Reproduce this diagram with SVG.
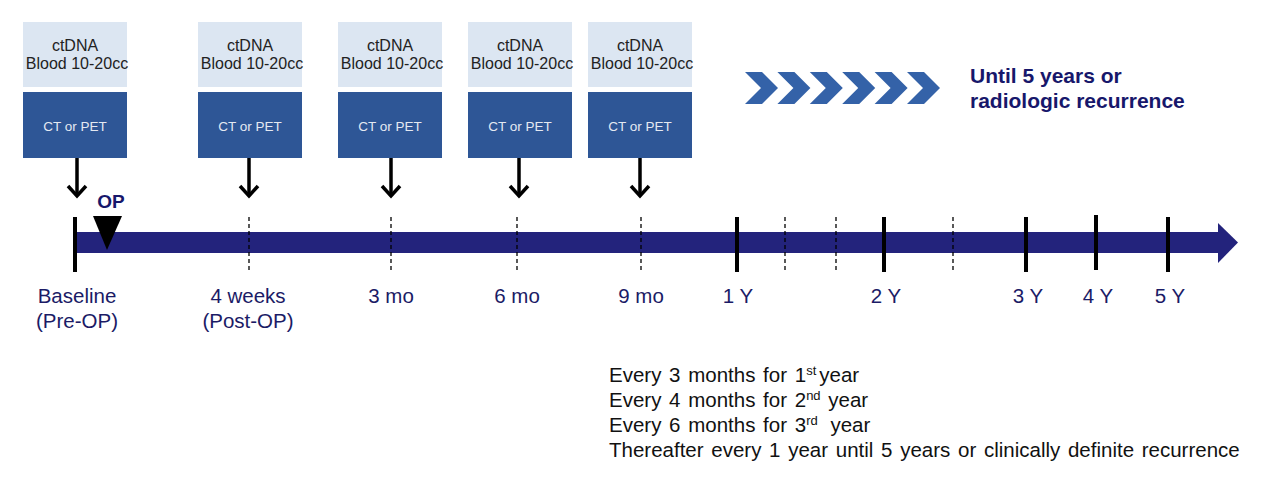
<svg xmlns="http://www.w3.org/2000/svg" width="1269" height="483" viewBox="0 0 1269 483">
<style>
.lb{fill:#dce6f2}
.db{fill:#2e5696}
.t1{font-family:"Liberation Sans",Arial,sans-serif;font-size:16px;fill:#222;text-anchor:middle}
.t2{font-family:"Liberation Sans",Arial,sans-serif;font-size:13.5px;fill:#e4e9f2;text-anchor:middle}
.lab{font-family:"Liberation Sans",Arial,sans-serif;font-size:20.5px;fill:#1b1b66;text-anchor:middle}
.arr{fill:none;stroke:#000;stroke-width:3.5}
.solid{stroke:#000;stroke-width:4}
.dash{stroke:#000;stroke-width:1.3;stroke-dasharray:4 3}
.note{font-family:"Liberation Sans",Arial,sans-serif;font-size:20.5px;fill:#111;word-spacing:2px}
.sup{font-size:13px}
.ttl{font-family:"Liberation Sans",Arial,sans-serif;font-size:21px;font-weight:bold;fill:#17176b}
</style>
<defs>
<path id="chev" d="M0,72 L17,72 L33,88 L17,104 L0,104 L16,88 Z" fill="#3462a8"/>
</defs>
<rect width="1269" height="483" fill="#fff"/>

<g id="node-baseline-box">
<rect class="lb" x="23" y="22" width="104" height="65"/>
<text class="t1" x="75" y="51">ctDNA</text>
<text class="t1" x="77" y="69">Blood 10-20cc</text>
<rect class="db" x="23" y="92" width="104" height="66"/>
<text class="t2" x="75" y="131">CT or PET</text>
</g>
<g id="node-4weeks-box">
<rect class="lb" x="198" y="22" width="104" height="65"/>
<text class="t1" x="250" y="51">ctDNA</text>
<text class="t1" x="252" y="69">Blood 10-20cc</text>
<rect class="db" x="198" y="92" width="104" height="66"/>
<text class="t2" x="250" y="131">CT or PET</text>
</g>
<g id="node-3mo-box">
<rect class="lb" x="338" y="22" width="104" height="65"/>
<text class="t1" x="390" y="51">ctDNA</text>
<text class="t1" x="392" y="69">Blood 10-20cc</text>
<rect class="db" x="338" y="92" width="104" height="66"/>
<text class="t2" x="390" y="131">CT or PET</text>
</g>
<g id="node-6mo-box">
<rect class="lb" x="468" y="22" width="104" height="65"/>
<text class="t1" x="520" y="51">ctDNA</text>
<text class="t1" x="522" y="69">Blood 10-20cc</text>
<rect class="db" x="468" y="92" width="104" height="66"/>
<text class="t2" x="520" y="131">CT or PET</text>
</g>
<g id="node-9mo-box">
<rect class="lb" x="588" y="22" width="104" height="65"/>
<text class="t1" x="640" y="51">ctDNA</text>
<text class="t1" x="642" y="69">Blood 10-20cc</text>
<rect class="db" x="588" y="92" width="104" height="66"/>
<text class="t2" x="640" y="131">CT or PET</text>
</g>

<g id="node-until">
<use href="#chev" x="745"/>
<use href="#chev" x="777.4"/>
<use href="#chev" x="809.8"/>
<use href="#chev" x="842.2"/>
<use href="#chev" x="874.6"/>
<use href="#chev" x="907"/>
<text class="ttl" x="970" y="83">Until 5 years or</text>
<text class="ttl" x="970" y="108">radiologic recurrence</text>
</g>

<g id="timeline">
<rect x="75" y="232" width="1144" height="21" fill="#23237c"/>
<polygon points="1218,223 1238,242.5 1218,263" fill="#23237c"/>
<line class="solid" x1="75" y1="217" x2="75" y2="272"/>
<line class="solid" x1="737" y1="217" x2="737" y2="272"/>
<line class="solid" x1="884" y1="217" x2="884" y2="272"/>
<line class="solid" x1="1026" y1="217" x2="1026" y2="272"/>
<line class="solid" x1="1096" y1="215" x2="1096" y2="270"/>
<line class="solid" x1="1168" y1="217" x2="1168" y2="272"/>
<line class="dash" x1="249" y1="217" x2="249" y2="270"/>
<line class="dash" x1="391" y1="217" x2="391" y2="270"/>
<line class="dash" x1="517" y1="217" x2="517" y2="270"/>
<line class="dash" x1="641" y1="217" x2="641" y2="270"/>
<line class="dash" x1="785" y1="217" x2="785" y2="270"/>
<line class="dash" x1="836" y1="217" x2="836" y2="270"/>
<line class="dash" x1="953" y1="217" x2="953" y2="270"/>
</g>

<g id="node-op">
<polygon points="93,216 122,216 107,250" fill="#000"/>
<text x="111" y="208" font-family="'Liberation Sans',Arial,sans-serif" font-size="19" font-weight="bold" fill="#17176b" text-anchor="middle">OP</text>
</g>

<g id="connectors">
<line class="arr" x1="77" y1="158" x2="77" y2="196"/>
<polyline class="arr" points="68,186 77,196 86,186"/>
<line class="arr" x1="249" y1="158" x2="249" y2="196"/>
<polyline class="arr" points="240,186 249,196 258,186"/>
<line class="arr" x1="391" y1="158" x2="391" y2="196"/>
<polyline class="arr" points="382,186 391,196 400,186"/>
<line class="arr" x1="519" y1="158" x2="519" y2="196"/>
<polyline class="arr" points="510,186 519,196 528,186"/>
<line class="arr" x1="640" y1="158" x2="640" y2="196"/>
<polyline class="arr" points="631,186 640,196 649,186"/>
</g>

<g id="labels">
<text class="lab" x="77" y="303">Baseline</text>
<text class="lab" x="77" y="328">(Pre-OP)</text>
<text class="lab" x="248" y="303">4 weeks</text>
<text class="lab" x="248" y="328">(Post-OP)</text>
<text class="lab" x="391" y="303">3 mo</text>
<text class="lab" x="517" y="303">6 mo</text>
<text class="lab" x="641" y="303">9 mo</text>
<text class="lab" x="738" y="303">1 Y</text>
<text class="lab" x="886" y="303">2 Y</text>
<text class="lab" x="1028" y="303">3 Y</text>
<text class="lab" x="1098" y="303">4 Y</text>
<text class="lab" x="1170" y="303">5 Y</text>
</g>

<g id="notes">
<text class="note" x="609" y="382">Every 3 months for 1<tspan class="sup" dy="-7">st</tspan><tspan dy="7" dx="3">year</tspan></text>
<text class="note" x="609" y="407">Every 4 months for 2<tspan class="sup" dy="-7">nd</tspan><tspan dy="7"> year</tspan></text>
<text class="note" x="609" y="432">Every 6 months for 3<tspan class="sup" dy="-7">rd</tspan><tspan dy="7" dx="5"> year</tspan></text>
<text class="note" x="609" y="457">Thereafter every 1 year until 5 years or clinically definite recurrence</text>
</g>
</svg>
